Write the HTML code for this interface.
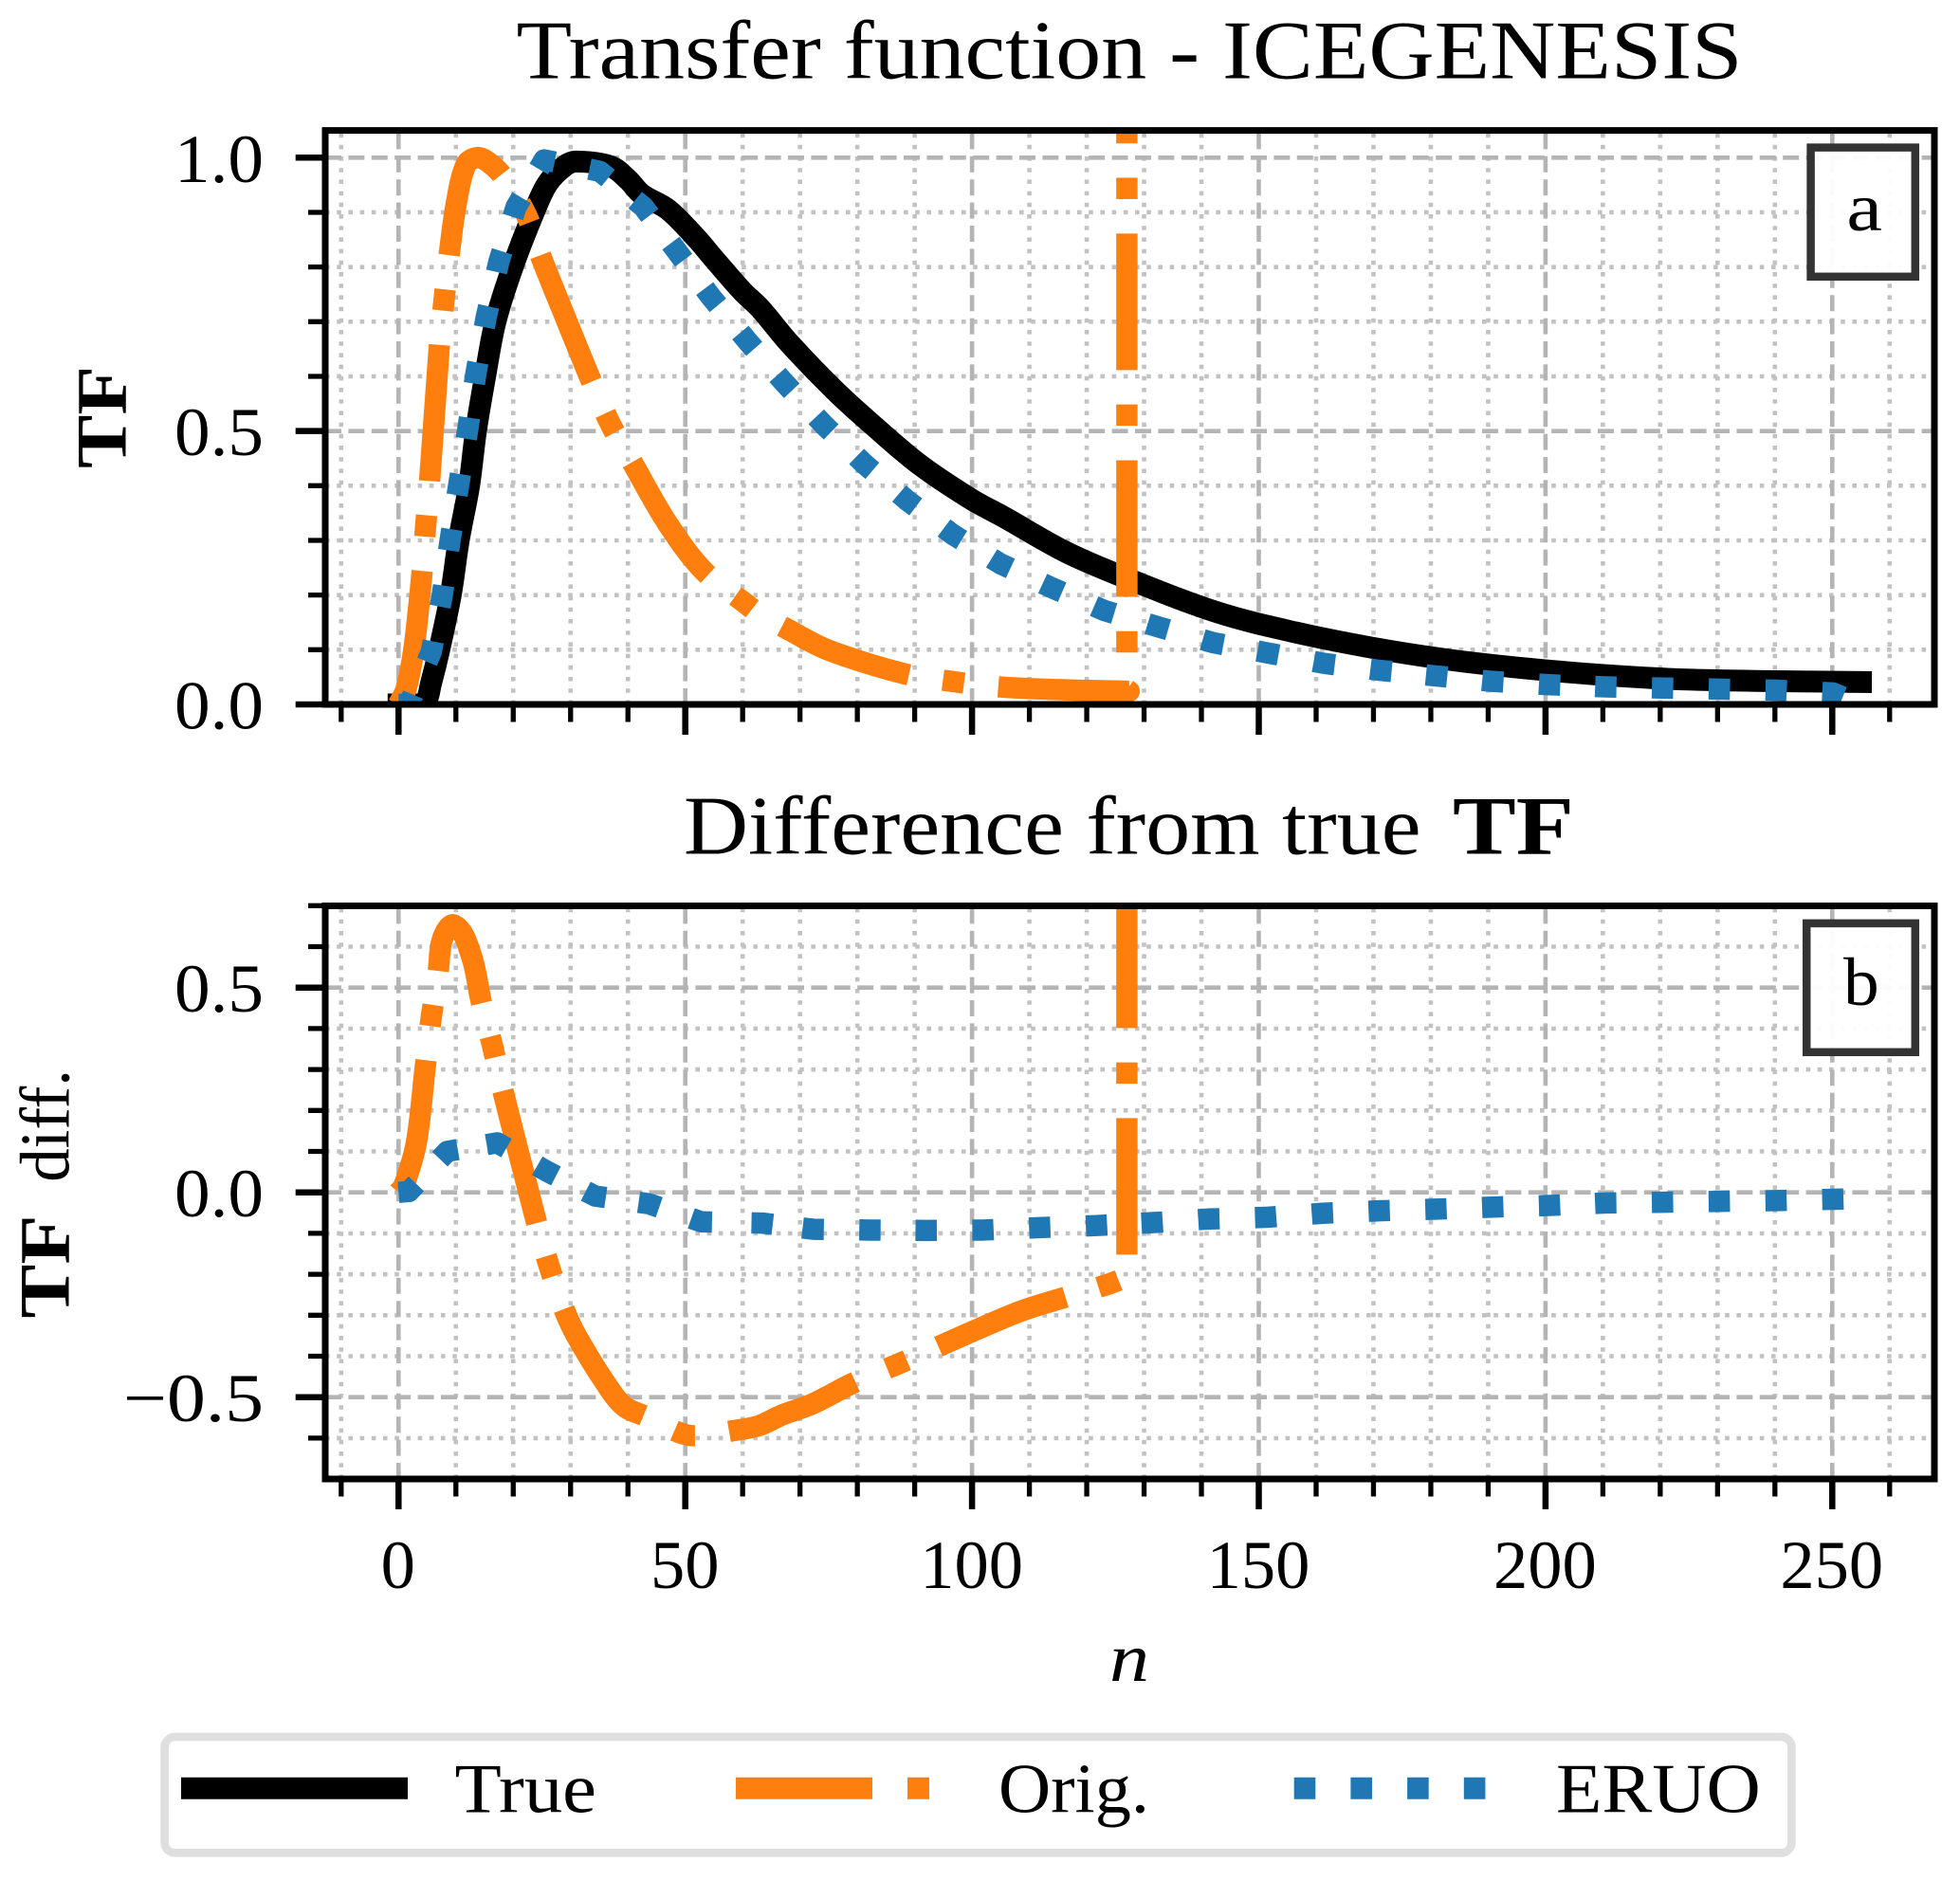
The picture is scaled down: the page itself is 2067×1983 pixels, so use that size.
<!DOCTYPE html>
<html lang="en">
<head>
<meta charset="utf-8">
<title>Transfer function - ICEGENESIS</title>
<style>
html,body{margin:0;padding:0;background:#fff;width:2067px;height:1983px;overflow:hidden}
svg{display:block;font-family:"Liberation Serif",serif;fill:#000}
text{fill:#000}
</style>
</head>
<body>
<svg id="fig" xmlns="http://www.w3.org/2000/svg" width="2067" height="1983" viewBox="0 0 2067 1983">
  <defs>
    <clipPath id="clipA"><rect x="343" y="137.6" width="1697" height="605.4"/></clipPath>
    <clipPath id="clipB"><rect x="343" y="955.5" width="1697" height="604.5"/></clipPath>
  </defs>
  <rect width="2067" height="1983" fill="#fff"/>

  <g id="panelA"></g>
  <g id="panelB"></g>

  <text x="544.5" y="82.7" font-size="88" textLength="1293" lengthAdjust="spacingAndGlyphs">Transfer function - ICEGENESIS</text>
  <text x="721" y="900.7" font-size="88" textLength="777.5" lengthAdjust="spacingAndGlyphs">Difference from true</text>
  <text x="1532" y="900.7" font-size="88" font-weight="bold" textLength="127.8" lengthAdjust="spacingAndGlyphs">TF</text>

  <text transform="translate(132.6,494) rotate(-90)" font-size="75" font-weight="bold" textLength="108" lengthAdjust="spacingAndGlyphs">TF</text>
  <text transform="translate(72.5,1390.5) rotate(-90)" font-size="75" font-weight="bold" textLength="109" lengthAdjust="spacingAndGlyphs">TF</text>
  <text transform="translate(72.5,1246.8) rotate(-90)" font-size="74" textLength="118.8" lengthAdjust="spacingAndGlyphs">diff.</text>
  <text x="1170" y="1773" font-size="72.5" font-style="italic" textLength="42" lengthAdjust="spacingAndGlyphs">n</text>

  <g>
    <rect x="1909.6" y="155.6" width="110.2" height="136.2" fill="#fff" fill-opacity="0.95" stroke="#333" stroke-width="8.5"/>
    <text x="1947.4" y="243" font-size="72.5" textLength="37.6" lengthAdjust="spacingAndGlyphs">a</text>
  </g>
  <g>
    <rect x="1905.2" y="973.9" width="114.6" height="135.9" fill="#fff" fill-opacity="0.95" stroke="#333" stroke-width="8.5"/>
    <text x="1944" y="1060" font-size="72.5" textLength="37.7" lengthAdjust="spacingAndGlyphs">b</text>
  </g>

  <g>
    <rect x="173.6" y="1832" width="1715.8" height="122.4" rx="11" ry="11" fill="#fff" stroke="#dfdfdf" stroke-width="8.7"/>
    <line x1="191" x2="430" y1="1886.2" y2="1886.2" stroke="#000" stroke-width="23"/>
    <text x="479.5" y="1911.7" font-size="74" textLength="149.5" lengthAdjust="spacingAndGlyphs">True</text>
    <line x1="776" x2="1015" y1="1886.2" y2="1886.2" stroke="#ff7f0e" stroke-width="23" stroke-dasharray="144 37 23 35"/>
    <text x="1053" y="1911.7" font-size="74" textLength="159" lengthAdjust="spacingAndGlyphs">Orig.</text>
    <line x1="1364.7" x2="1603" y1="1886.2" y2="1886.2" stroke="#1f77b4" stroke-width="23" stroke-dasharray="22.6 37.1"/>
    <text x="1641" y="1911.7" font-size="74" textLength="215.7" lengthAdjust="spacingAndGlyphs">ERUO</text>
  </g>
</svg>

<script>
// ---- Tick values ----
const xMajorTicks = [0, 50, 100, 150, 200, 250];
const xMinorTicks = [-10, 10, 20, 30, 40, 60, 70, 80, 90, 110, 120, 130, 140, 160, 170, 180, 190, 210, 220, 230, 240, 260];
const xTickLabels = ['0', '50', '100', '150', '200', '250'];
const yMajorTicksA = [0, 0.5, 1];
const yMinorTicksA = [0.1, 0.2, 0.3, 0.4, 0.6, 0.7, 0.8, 0.9];
const yTickLabelsA = ['0.0', '0.5', '1.0'];
const yMajorTicksB = [-0.5, 0, 0.5];
const yMinorTicksB = [-0.6, -0.4, -0.3, -0.2, -0.1, 0.1, 0.2, 0.3, 0.4, 0.6, 0.7];
const yTickLabelsB = ['\u22120.5', '0.0', '0.5'];

// ---- Panel a series: transfer functions ----
const trueN  = [0, 3, 4.6, 5.7, 7.1, 9.1, 10.5, 12.3, 13.5, 15.1, 16.9, 19.9, 23.6, 26, 29, 31, 37, 40, 42.4, 47, 52, 55, 60, 63, 68.1, 76.1, 82.8, 90.8, 99.9, 105.5, 116.3, 126.9, 142.9, 156.3, 169.6, 183, 196.4, 209.8, 223.1, 236.5, 255];
const trueTF = [0, 0, 0.002, 0.04, 0.1, 0.2, 0.3, 0.4, 0.5, 0.6, 0.7, 0.8, 0.9, 0.953, 0.985, 0.993, 0.984, 0.96, 0.933, 0.905, 0.852, 0.815, 0.755, 0.725, 0.661, 0.574, 0.51, 0.439, 0.375, 0.343, 0.279, 0.231, 0.168, 0.132, 0.104, 0.082, 0.066, 0.054, 0.046, 0.043, 0.041];

const origN  = [0, 1.3, 2.7, 4.1, 4.7, 5.4, 7.1, 7.9, 8.8, 10.1, 11.8, 13.7, 15.5, 18.1, 22.3, 24.8, 29, 33.6, 36.9, 41, 46.9, 53.3, 60.2, 63, 67.4, 74.8, 88.2, 96.5, 104.9, 115, 127, 127.4, 127, 127];
const origTF = [0, 0.028, 0.103, 0.242, 0.323, 0.406, 0.654, 0.736, 0.82, 0.918, 0.988, 1, 0.993, 0.967, 0.895, 0.82, 0.71, 0.592, 0.514, 0.438, 0.331, 0.243, 0.187, 0.165, 0.14, 0.1, 0.056, 0.042, 0.032, 0.027, 0.024, 0.024, 0.027, 2];

const eruoN  = [0, 1.8, 5.7, 7.6, 9, 10.5, 12.1, 13.5, 15.3, 17.5, 20.5, 25.4, 35.1, 42.7, 48.6, 54.5, 60.8, 67.3, 74.1, 81.2, 88.7, 96.6, 105, 114, 123, 132.4, 142, 151.6, 161.4, 171.3, 181, 190.8, 200.7, 210.5, 220.4, 230.3, 240.2, 250.1, 255];
const eruoTF = [0, 0, 0.096, 0.198, 0.301, 0.402, 0.505, 0.606, 0.709, 0.81, 0.91, 0.996, 0.975, 0.91, 0.828, 0.745, 0.665, 0.588, 0.512, 0.44, 0.373, 0.311, 0.257, 0.213, 0.172, 0.142, 0.113, 0.094, 0.075, 0.062, 0.052, 0.042, 0.036, 0.032, 0.03, 0.028, 0.026, 0.021, 0];

// ---- Panel b series: difference from true ----
const origDiffN = [0, 0.9, 3.1, 4.7, 5.7, 6.9, 7.7, 9.8, 12.7, 14.4, 16.4, 18.2, 24, 26.2, 28.8, 30.9, 36, 39.3, 43.1, 49.9, 54, 57.9, 62.8, 66.8, 72.1, 79.5, 86.8, 94.2, 101.5, 108.9, 116.3, 123.8, 127, 127.4, 127, 127];
const origDiffV = [0, 0.015, 0.121, 0.312, 0.427, 0.537, 0.62, 0.652, 0.578, 0.467, 0.357, 0.248, -0.07, -0.177, -0.283, -0.347, -0.464, -0.522, -0.547, -0.591, -0.592, -0.583, -0.57, -0.544, -0.517, -0.464, -0.421, -0.376, -0.331, -0.288, -0.256, -0.224, -0.207, -0.207, -0.2, 2];

const eruoDiffN = [0, 1.8, 8.5, 17.2, 25.8, 34.3, 43.7, 52.8, 63.4, 72.3, 82.2, 92, 101.9, 111.8, 121.7, 131.4, 141.3, 151.2, 161.1, 171, 180.9, 190.8, 200.7, 210.5, 220.4, 230.3, 240.2, 250.1, 255];
const eruoDiffV = [0, 0.002, 0.1, 0.121, 0.052, -0.009, -0.028, -0.072, -0.075, -0.09, -0.092, -0.093, -0.092, -0.086, -0.081, -0.074, -0.065, -0.061, -0.051, -0.045, -0.041, -0.036, -0.032, -0.026, -0.024, -0.022, -0.02, -0.017, -0.015];

// ---- Axis functions ----
const AX_LEFT = 343, AX_RIGHT = 2040;
function xScale(n) { return 420.3 + 6.048 * n; }
function yScaleA(v) { return 743 - 576.7 * v; }
function yScaleB(v) { return 1257.7 - 432 * v; }

const NS = 'http://www.w3.org/2000/svg';
function mk(tag, parent, attrs) {
  const el = document.createElementNS(NS, tag);
  for (const k in attrs) el.setAttribute(k, attrs[k]);
  parent.appendChild(el);
  return el;
}
function pathFrom(ns, vs, yFn) {
  return ns.map((n, i) => (i ? 'L' : 'M') + xScale(n).toFixed(2) + ' ' + yFn(vs[i]).toFixed(2)).join(' ');
}
// Smooth curve through the data points; the last `tail` segments stay straight.
function smoothFrom(ns, vs, yFn, tail) {
  const p = ns.map((n, i) => [xScale(n), yFn(vs[i])]);
  const last = p.length - 1;
  function tangent(i) {
    const a = p[Math.max(i - 1, 0)], b = p[Math.min(i + 1, last)];
    const dx = b[0] - a[0], dy = b[1] - a[1], d = Math.hypot(dx, dy) || 1;
    return [dx / d, dy / d];
  }
  let d = 'M' + p[0][0].toFixed(2) + ' ' + p[0][1].toFixed(2);
  for (let i = 0; i < last; i++) {
    if (i >= last - tail) { d += ' L' + p[i + 1][0].toFixed(2) + ' ' + p[i + 1][1].toFixed(2); continue; }
    const len = Math.hypot(p[i + 1][0] - p[i][0], p[i + 1][1] - p[i][1]) / 3;
    const t0 = tangent(i), t1 = tangent(i + 1);
    d += ' C' + (p[i][0] + t0[0] * len).toFixed(2) + ' ' + (p[i][1] + t0[1] * len).toFixed(2) +
         ' ' + (p[i + 1][0] - t1[0] * len).toFixed(2) + ' ' + (p[i + 1][1] - t1[1] * len).toFixed(2) +
         ' ' + p[i + 1][0].toFixed(2) + ' ' + p[i + 1][1].toFixed(2);
  }
  return d;
}
// Dotted pattern whose dots sit centred on the interior data points.
function dotDashes(ns, vs, yFn, size) {
  const h = size / 2, chords = [];
  for (let i = 1; i < ns.length; i++) {
    chords.push(Math.hypot(xScale(ns[i]) - xScale(ns[i - 1]), yFn(vs[i]) - yFn(vs[i - 1])));
  }
  const out = [chords[0] + h];
  for (let i = 1; i < chords.length - 1; i++) {
    out.push(Math.max(chords[i] - size, 0), size);
  }
  out.push(4000, 0);
  return out.map(x => x.toFixed(2)).join(' ');
}

function drawPanel(root, cfg) {
  const top = cfg.top, bottom = cfg.bottom, y = cfg.y;

  const grid = mk('g', root, { 'clip-path': 'url(#' + cfg.clip + ')' });
  
  

  xMinorTicks.forEach(t => {
    const l = mk('line', grid, { x1: xScale(t), x2: xScale(t), y1: bottom, y2: top, stroke: '#c2c2c2', 'stroke-width': 4.6, 'stroke-dasharray': '4.6 7.6' });
    
    
  });
  cfg.yMinor.forEach(t => {
    const l = mk('line', grid, { x1: AX_LEFT, x2: AX_RIGHT, y1: y(t), y2: y(t), stroke: '#c2c2c2', 'stroke-width': 4.6, 'stroke-dasharray': '4.6 7.6' });
    
    
  });
  xMajorTicks.forEach(t => {
    const l = mk('line', grid, { x1: xScale(t), x2: xScale(t), y1: bottom, y2: top, stroke: '#b4b4b4', 'stroke-width': 4.6, 'stroke-dasharray': '17 7.4' });
    
    
  });
  cfg.yMajor.forEach(t => {
    const l = mk('line', grid, { x1: AX_LEFT, x2: AX_RIGHT, y1: y(t), y2: y(t), stroke: '#b4b4b4', 'stroke-width': 4.6, 'stroke-dasharray': '17 7.4' });
    
    
  });

  const series = mk('g', root, { 'clip-path': 'url(#' + cfg.clip + ')', fill: 'none', 'stroke-linejoin': 'round' });
  
  

  if (cfg.trueN) {
    const s = mk('path', series, { d: smoothFrom(cfg.trueN, cfg.trueV, y, 0), stroke: '#000', 'stroke-width': 23, 'stroke-linecap': 'square' });
    
    
  }
  const o = mk('path', series, { d: smoothFrom(cfg.origN, cfg.origV, y, 3), stroke: '#ff7f0e', 'stroke-width': 22.5, 'stroke-dasharray': '144 36.3 22.5 36.3' });
  
  
  const e = mk('path', series, { d: pathFrom(cfg.eruoN, cfg.eruoV, y), stroke: '#1f77b4', 'stroke-width': 22.5, 'stroke-dasharray': dotDashes(cfg.eruoN, cfg.eruoV, y, 22.5) });
  
  

  const ticks = mk('g', root, { stroke: '#000' });
  
  

  xMinorTicks.forEach(t => {
    const l = mk('line', ticks, { x1: xScale(t), x2: xScale(t), y1: bottom, y2: bottom + 18.5, 'stroke-width': 5.3 });
    
    
  });
  xMajorTicks.forEach(t => {
    const l = mk('line', ticks, { x1: xScale(t), x2: xScale(t), y1: bottom, y2: bottom + 32, 'stroke-width': 6.5 });
    
    
  });
  cfg.yMinor.forEach(t => {
    const l = mk('line', ticks, { x1: AX_LEFT - 18, x2: AX_LEFT, y1: y(t), y2: y(t), 'stroke-width': 5.3 });
    
    
  });
  cfg.yMajor.forEach(t => {
    const l = mk('line', ticks, { x1: AX_LEFT - 31.3, x2: AX_LEFT, y1: y(t), y2: y(t), 'stroke-width': 6.5 });
    
    
  });

  const frame = mk('rect', root, { x: AX_LEFT, y: top, width: AX_RIGHT - AX_LEFT, height: bottom - top, fill: 'none', stroke: '#000', 'stroke-width': 7 });
  
  

  cfg.yMajor.forEach((t, i) => {
    const lab = cfg.yLabels[i];
    const txt = mk('text', root, { x: 278, y: y(t) + 25.5, 'font-size': 72.5, 'text-anchor': 'end', textLength: lab.length > 3 ? 148 : 94, lengthAdjust: 'spacingAndGlyphs' });
    txt.textContent = lab;
    
    
  });
  if (cfg.showXLabels) {
    xMajorTicks.forEach((t, i) => {
      const txt = mk('text', root, { x: xScale(t) - 0.5, y: 1675, 'font-size': 72.5, 'text-anchor': 'middle' });
      txt.textContent = xTickLabels[i];
      
      
    });
  }
}

drawPanel(document.getElementById('panelA'), {
  top: 137.6, bottom: 743, y: yScaleA, clip: 'clipA',
  yMajor: yMajorTicksA, yMinor: yMinorTicksA, yLabels: yTickLabelsA,
  trueN: trueN, trueV: trueTF, origN: origN, origV: origTF, eruoN: eruoN, eruoV: eruoTF,
  showXLabels: false
});
drawPanel(document.getElementById('panelB'), {
  top: 955.5, bottom: 1560, y: yScaleB, clip: 'clipB',
  yMajor: yMajorTicksB, yMinor: yMinorTicksB, yLabels: yTickLabelsB,
  origN: origDiffN, origV: origDiffV, eruoN: eruoDiffN, eruoV: eruoDiffV,
  showXLabels: true
});
</script>
</body>
</html>
